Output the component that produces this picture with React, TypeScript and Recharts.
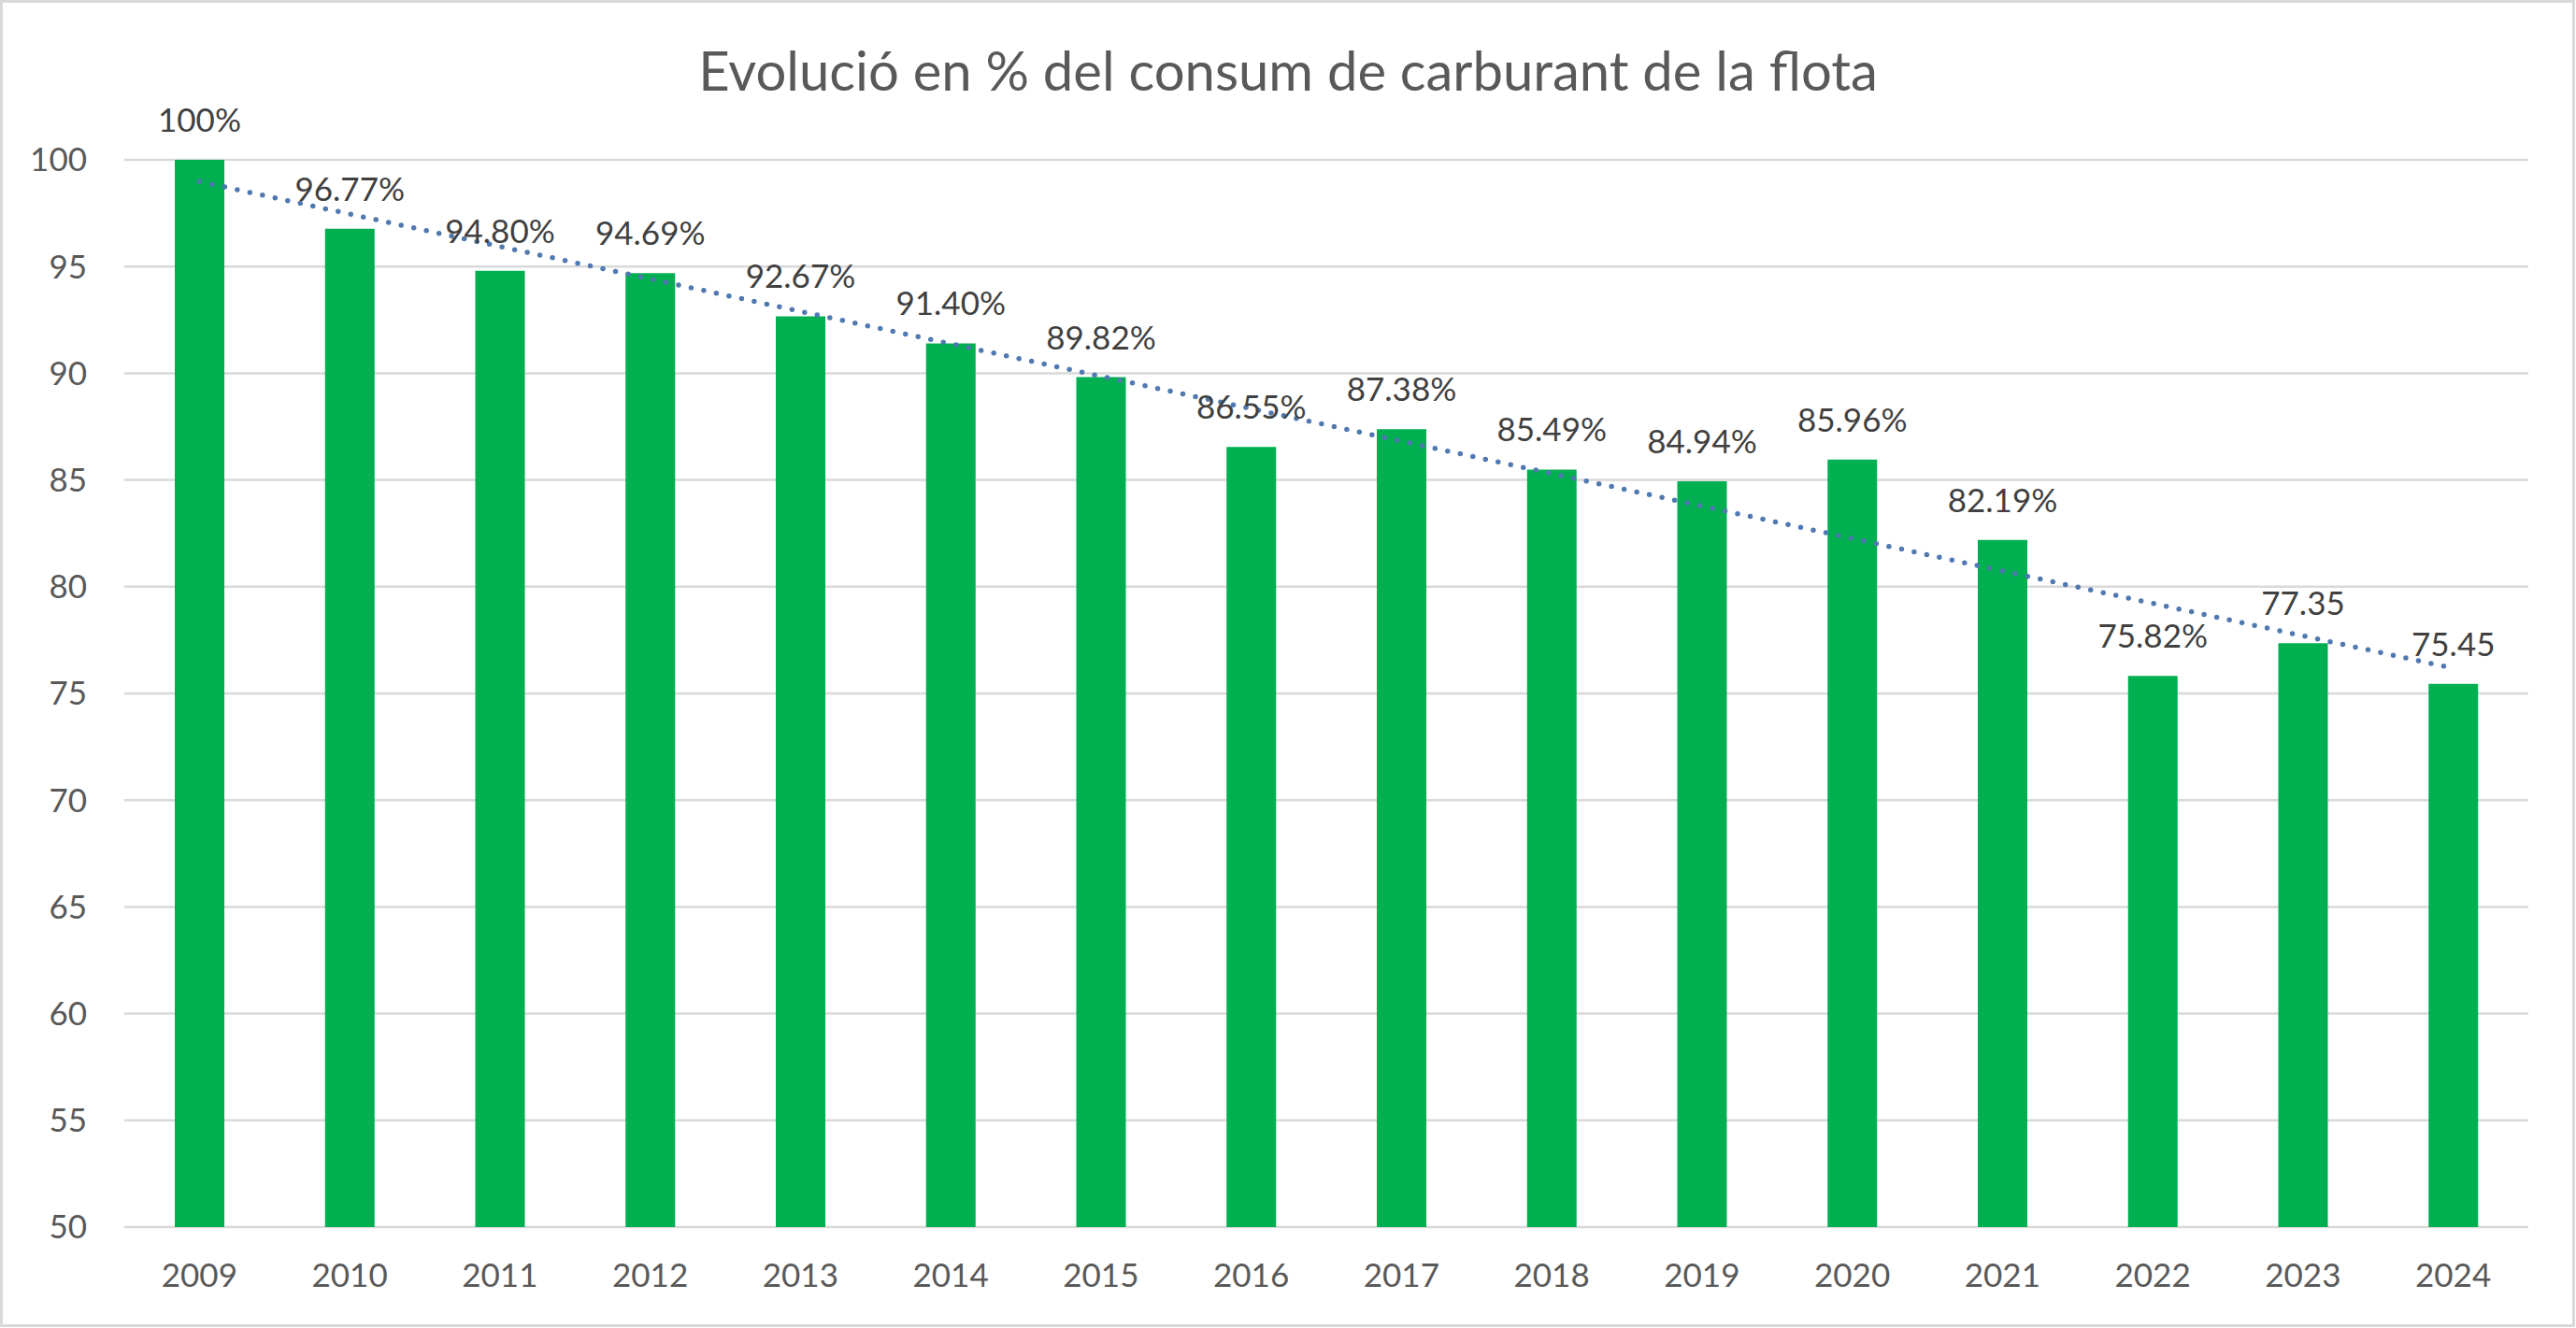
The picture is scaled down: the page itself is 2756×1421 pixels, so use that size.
import { Bar, BarChart, CartesianGrid, LabelList, ReferenceLine, XAxis, YAxis } from 'recharts'

const years = ['2009', '2010', '2011', '2012', '2013', '2014', '2015', '2016', '2017', '2018', '2019', '2020', '2021', '2022', '2023', '2024']
const consum = [100, 96.77, 94.8, 94.69, 92.67, 91.4, 89.82, 86.55, 87.38, 85.49, 84.94, 85.96, 82.19, 75.82, 77.35, 75.45]
const labelTexts = ['100%', '96.77%', '94.80%', '94.69%', '92.67%', '91.40%', '89.82%', '86.55%', '87.38%', '85.49%', '84.94%', '85.96%', '82.19%', '75.82%', '77.35', '75.45']
const yTicks = [50, 55, 60, 65, 70, 75, 80, 85, 90, 95, 100]
// category boundaries for the Excel-style tick marks between years
const boundaryTicks = [0, 1, 2, 3, 4, 5, 6, 7, 8, 9, 10, 11, 12, 13, 14, 15, 16]
// linear trendline, start / end
const trendStart = 98.98
const trendEnd = 76.18

const FONT = 'Lato, "Open Sans", sans-serif'
const W = 2756
const H = 1421

const data = years.map((year, i) => ({ year, value: consum[i] }))

function BarLabel(props: any) {
  const { x, y, width, index } = props
  return (
    <text
      x={Number(x) + Number(width) / 2}
      y={Number(y) - 30}
      textAnchor="middle"
      fill="#404040"
      fontSize={35}
      fontFamily={FONT}
    >
      {labelTexts[index]}
    </text>
  )
}

const NoTick = () => <g />

export default function App() {
  return (
    <div style={{ position: 'absolute', left: 0, top: 0, width: W, height: H, background: '#fff', fontFamily: FONT }}>
      <BarChart width={W} height={H} data={data} margin={{ top: 171, right: 51, left: 0, bottom: 0 }}>
        <CartesianGrid vertical={false} stroke="#d9d9d9" strokeWidth={2.5} />
        <XAxis
          xAxisId="edges"
          type="number"
          domain={[0, 16]}
          ticks={boundaryTicks}
          interval={0}
          height={0}
          tick={NoTick}
          tickSize={13}
          axisLine={{ stroke: '#d9d9d9', strokeWidth: 3 }}
          tickLine={{ stroke: '#d9d9d9', strokeWidth: 3 }}
        />
        <XAxis
          dataKey="year"
          height={108}
          axisLine={false}
          tickLine={false}
          tickSize={13}
          tickMargin={26}
          tick={{ fontSize: 35, fill: '#595959', fontFamily: FONT }}
          interval={0}
        />
        <YAxis
          domain={[50, 100]}
          ticks={yTicks}
          width={133}
          axisLine={false}
          tickLine={false}
          tickSize={6}
          tickMargin={34}
          tick={{ fontSize: 35, fill: '#595959', fontFamily: FONT }}
          interval={0}
        />
        <Bar dataKey="value" fill="#00b050" barSize={53} isAnimationActive={false}>
          <LabelList dataKey="value" content={BarLabel} />
        </Bar>
        <ReferenceLine
          segment={[
            { x: years[0], y: trendStart },
            { x: years[years.length - 1], y: trendEnd },
          ]}
          stroke="#4f79b0"
          strokeWidth={5.5}
          strokeDasharray="0 13.8"
          strokeLinecap="round"
          ifOverflow="visible"
        />
      </BarChart>
      <div
        style={{
          position: 'absolute',
          left: 0,
          top: 46,
          width: W,
          textAlign: 'center',
          fontSize: 58,
          lineHeight: '58px',
          color: '#595959',
          fontFamily: FONT,
        }}
      >
        Evolució en % del consum de carburant de la flota
      </div>
      <div
        style={{
          position: 'absolute',
          left: 0,
          top: 0,
          width: W - 1,
          height: H - 1,
          boxSizing: 'border-box',
          border: '3px solid #d9d9d9',
          pointerEvents: 'none',
        }}
      />
    </div>
  )
}
